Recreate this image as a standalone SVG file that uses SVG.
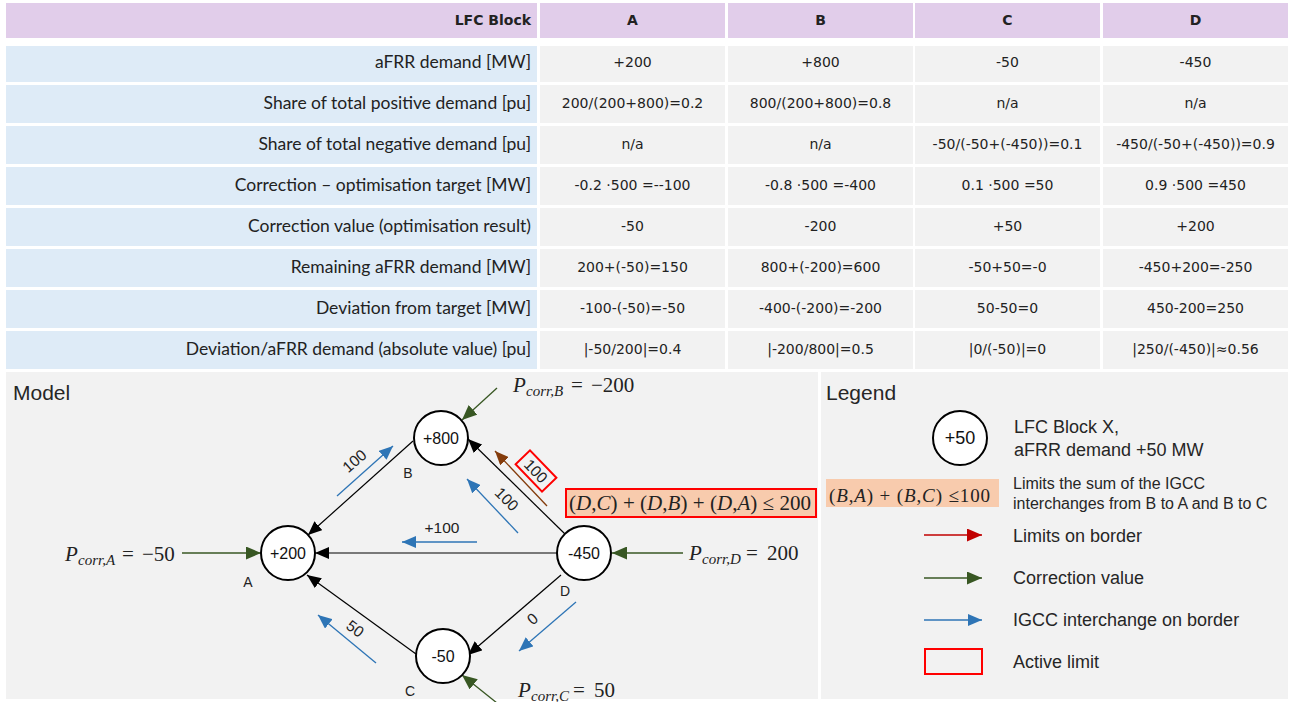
<svg xmlns="http://www.w3.org/2000/svg" width="1290" height="702" viewBox="0 0 1290 702">
  <style>
    .hdr { fill: #E1CDEA; }
    .lab { fill: #DEEBF7; }
    .val { fill: #F2F2F2; }
    .th { font-family: "DejaVu Sans", sans-serif; font-weight: bold; font-size: 14px; fill: #222; text-anchor: middle; }
    .rl { font-family: Lato, "Liberation Sans", sans-serif; font-size: 17.5px; fill: #222; text-anchor: end; }
    .tv { font-family: "DejaVu Sans", sans-serif; font-size: 14px; fill: #222; text-anchor: middle; }
    .panel { fill: #F2F2F2; }
    .title { font-family: "Liberation Sans", Arial, sans-serif; font-size: 21px; fill: #262626; }
    .node circle { fill: #fff; stroke: #000; stroke-width: 2; }
    .node text { font-family: "Liberation Sans", Arial, sans-serif; font-size: 16px; fill: #111; text-anchor: middle; }
    .nlab { font-family: "Liberation Sans", Arial, sans-serif; font-size: 14px; fill: #222; text-anchor: middle; }
    .edge { stroke: #000; stroke-width: 1.2; fill: none; marker-end: url(#ah-black); }
    .igcc { stroke: #2E75B6; stroke-width: 1.3; fill: none; marker-end: url(#ah-blue); }
    .corr { stroke: #385723; stroke-width: 1.3; fill: none; marker-end: url(#ah-green); }
    .lim { stroke: #843C0C; stroke-width: 1.3; fill: none; marker-end: url(#ah-brown); }
    .redl { stroke: #C00000; stroke-width: 1.3; fill: none; marker-end: url(#ah-red); }
    .flow { font-family: "Liberation Sans", Arial, sans-serif; font-size: 15.5px; fill: #222; text-anchor: middle; }
    .mi { font-family: "Liberation Serif", "Times New Roman", serif; font-style: italic; font-size: 21px; fill: #222; }
    .sub { font-family: "Liberation Serif", "Times New Roman", serif; font-style: italic; font-size: 15px; fill: #222; }
    .mo { font-family: "Liberation Serif", "Times New Roman", serif; font-size: 21px; fill: #222; }
    .it { font-style: italic; }
    .active { fill: none; stroke: #FF0000; stroke-width: 2; }
    .cons { fill: #F8CBAD; }
    .leg { font-family: "Liberation Sans", Arial, sans-serif; font-size: 18px; fill: #262626; }
    .legs { font-family: "Liberation Sans", Arial, sans-serif; font-size: 16px; fill: #262626; }
  </style>
  <defs>
    <marker id="ah-black" markerUnits="userSpaceOnUse" markerWidth="14" markerHeight="12" refX="14" refY="6" orient="auto">
      <path d="M0,0 L14,6 L0,12 z" fill="#000"/>
    </marker>
    <marker id="ah-blue" markerUnits="userSpaceOnUse" markerWidth="14" markerHeight="12" refX="14" refY="6" orient="auto">
      <path d="M0,0 L14,6 L0,12 z" fill="#2E75B6"/>
    </marker>
    <marker id="ah-green" markerUnits="userSpaceOnUse" markerWidth="15" markerHeight="13" refX="15" refY="6.5" orient="auto">
      <path d="M0,0 L15,6.5 L0,13 z" fill="#385723"/>
    </marker>
    <marker id="ah-brown" markerUnits="userSpaceOnUse" markerWidth="14" markerHeight="12" refX="14" refY="6" orient="auto">
      <path d="M0,0 L14,6 L0,12 z" fill="#843C0C"/>
    </marker>
    <marker id="ah-red" markerUnits="userSpaceOnUse" markerWidth="15" markerHeight="13" refX="15" refY="6.5" orient="auto">
      <path d="M0,0 L15,6.5 L0,13 z" fill="#C00000"/>
    </marker>
  </defs>

  <rect width="1290" height="702" fill="#fff"/>

  <!-- results table -->
  <g id="table">
    <g id="table-header">
      <rect class="hdr" x="6" y="3" width="531" height="35"/>
      <rect class="hdr" x="540" y="3" width="185" height="35"/>
      <rect class="hdr" x="728" y="3" width="185" height="35"/>
      <rect class="hdr" x="915" y="3" width="185" height="35"/>
      <rect class="hdr" x="1103" y="3" width="185" height="35"/>
      <text class="th" x="531" y="25" style="text-anchor:end">LFC Block</text>
      <text class="th" x="632.5" y="25">A</text>
      <text class="th" x="820.5" y="25">B</text>
      <text class="th" x="1007.5" y="25">C</text>
      <text class="th" x="1195.5" y="25">D</text>
    </g>
    <g id="table-cells">
      <rect class="lab" x="6" y="46" width="531" height="36"/>
      <rect class="val" x="540" y="46" width="185" height="36"/>
      <rect class="val" x="728" y="46" width="185" height="36"/>
      <rect class="val" x="915" y="46" width="185" height="36"/>
      <rect class="val" x="1103" y="46" width="185" height="36"/>

      <rect class="lab" x="6" y="85" width="531" height="38"/>
      <rect class="val" x="540" y="85" width="185" height="38"/>
      <rect class="val" x="728" y="85" width="185" height="38"/>
      <rect class="val" x="915" y="85" width="185" height="38"/>
      <rect class="val" x="1103" y="85" width="185" height="38"/>

      <rect class="lab" x="6" y="126" width="531" height="38"/>
      <rect class="val" x="540" y="126" width="185" height="38"/>
      <rect class="val" x="728" y="126" width="185" height="38"/>
      <rect class="val" x="915" y="126" width="185" height="38"/>
      <rect class="val" x="1103" y="126" width="185" height="38"/>

      <rect class="lab" x="6" y="167" width="531" height="38"/>
      <rect class="val" x="540" y="167" width="185" height="38"/>
      <rect class="val" x="728" y="167" width="185" height="38"/>
      <rect class="val" x="915" y="167" width="185" height="38"/>
      <rect class="val" x="1103" y="167" width="185" height="38"/>

      <rect class="lab" x="6" y="208" width="531" height="38"/>
      <rect class="val" x="540" y="208" width="185" height="38"/>
      <rect class="val" x="728" y="208" width="185" height="38"/>
      <rect class="val" x="915" y="208" width="185" height="38"/>
      <rect class="val" x="1103" y="208" width="185" height="38"/>

      <rect class="lab" x="6" y="249" width="531" height="38"/>
      <rect class="val" x="540" y="249" width="185" height="38"/>
      <rect class="val" x="728" y="249" width="185" height="38"/>
      <rect class="val" x="915" y="249" width="185" height="38"/>
      <rect class="val" x="1103" y="249" width="185" height="38"/>

      <rect class="lab" x="6" y="290" width="531" height="38"/>
      <rect class="val" x="540" y="290" width="185" height="38"/>
      <rect class="val" x="728" y="290" width="185" height="38"/>
      <rect class="val" x="915" y="290" width="185" height="38"/>
      <rect class="val" x="1103" y="290" width="185" height="38"/>

      <rect class="lab" x="6" y="331" width="531" height="38"/>
      <rect class="val" x="540" y="331" width="185" height="38"/>
      <rect class="val" x="728" y="331" width="185" height="38"/>
      <rect class="val" x="915" y="331" width="185" height="38"/>
      <rect class="val" x="1103" y="331" width="185" height="38"/>
    </g>
    <g id="table-text">
      <text class="rl" x="531" y="68">aFRR demand [MW]</text>
      <text class="tv" x="632.5" y="67">+200</text>
      <text class="tv" x="820.5" y="67">+800</text>
      <text class="tv" x="1007.5" y="67">-50</text>
      <text class="tv" x="1195.5" y="67">-450</text>

      <text class="rl" x="531" y="109">Share of total positive demand [pu]</text>
      <text class="tv" x="632.5" y="108">200/(200+800)=0.2</text>
      <text class="tv" x="820.5" y="108">800/(200+800)=0.8</text>
      <text class="tv" x="1007.5" y="108">n/a</text>
      <text class="tv" x="1195.5" y="108">n/a</text>

      <text class="rl" x="531" y="150">Share of total negative demand [pu]</text>
      <text class="tv" x="632.5" y="149">n/a</text>
      <text class="tv" x="820.5" y="149">n/a</text>
      <text class="tv" x="1007.5" y="149">-50/(-50+(-450))=0.1</text>
      <text class="tv" x="1195.5" y="149">-450/(-50+(-450))=0.9</text>

      <text class="rl" x="531" y="191">Correction – optimisation target [MW]</text>
      <text class="tv" x="632.5" y="190">-0.2 ·500 =--100</text>
      <text class="tv" x="820.5" y="190">-0.8 ·500 =-400</text>
      <text class="tv" x="1007.5" y="190">0.1 ·500 =50</text>
      <text class="tv" x="1195.5" y="190">0.9 ·500 =450</text>

      <text class="rl" x="531" y="232">Correction value (optimisation result)</text>
      <text class="tv" x="632.5" y="231">-50</text>
      <text class="tv" x="820.5" y="231">-200</text>
      <text class="tv" x="1007.5" y="231">+50</text>
      <text class="tv" x="1195.5" y="231">+200</text>

      <text class="rl" x="531" y="273">Remaining aFRR demand [MW]</text>
      <text class="tv" x="632.5" y="272">200+(-50)=150</text>
      <text class="tv" x="820.5" y="272">800+(-200)=600</text>
      <text class="tv" x="1007.5" y="272">-50+50=-0</text>
      <text class="tv" x="1195.5" y="272">-450+200=-250</text>

      <text class="rl" x="531" y="314">Deviation from target [MW]</text>
      <text class="tv" x="632.5" y="313">-100-(-50)=-50</text>
      <text class="tv" x="820.5" y="313">-400-(-200)=-200</text>
      <text class="tv" x="1007.5" y="313">50-50=0</text>
      <text class="tv" x="1195.5" y="313">450-200=250</text>

      <text class="rl" x="531" y="355">Deviation/aFRR demand (absolute value) [pu]</text>
      <text class="tv" x="632.5" y="354">|-50/200|=0.4</text>
      <text class="tv" x="820.5" y="354">|-200/800|=0.5</text>
      <text class="tv" x="1007.5" y="354">|0/(-50)|=0</text>
      <text class="tv" x="1195.5" y="354">|250/(-450)|≈0.56</text>
    </g>
  </g>

  <!-- model panel -->
  <rect class="panel" x="6" y="372" width="812" height="327"/>
  <text class="title" x="13" y="400">Model</text>

  <g id="connectors">
    <!-- borders between LFC blocks -->
    <line class="edge" x1="413" y1="441" x2="308" y2="535"/>
    <line class="edge" x1="557" y1="553" x2="315" y2="553"/>
    <line class="edge" x1="416" y1="654" x2="307" y2="575"/>
    <line class="edge" x1="565" y1="534" x2="468" y2="439"/>
    <line class="edge" x1="561" y1="575" x2="468" y2="655"/>
    <!-- IGCC interchanges -->
    <line class="igcc" x1="337" y1="496" x2="393" y2="446"/>
    <line class="igcc" x1="477" y1="542" x2="402" y2="542"/>
    <line class="igcc" x1="518" y1="533" x2="467" y2="479"/>
    <line class="igcc" x1="576" y1="602" x2="519" y2="651"/>
    <line class="igcc" x1="376" y1="663" x2="318" y2="615"/>
    <!-- border limit D to B -->
    <line class="lim" x1="547" y1="506" x2="495" y2="451"/>
    <!-- correction values -->
    <line class="corr" x1="182" y1="553" x2="261" y2="553"/>
    <line class="corr" x1="497" y1="388" x2="462" y2="420"/>
    <line class="corr" x1="683" y1="553" x2="612" y2="553"/>
    <line class="corr" x1="497" y1="703" x2="462" y2="675"/>
  </g>

  <g id="flow-labels">
    <text class="flow" transform="translate(358,465) rotate(-41)">100</text>
    <text class="flow" x="442" y="533">+100</text>
    <text class="flow" transform="translate(503,503) rotate(45)">100</text>
    <text class="flow" transform="translate(536,623) rotate(-41)">0</text>
    <text class="flow" transform="translate(352,633) rotate(37)">50</text>
    <g id="limit-DB" transform="translate(536,471) rotate(46)">
      <rect class="active" x="-19" y="-10" width="38" height="20"/>
      <text class="flow" x="0" y="5.5">100</text>
    </g>
  </g>

  <g id="node-A" class="node">
    <circle cx="288" cy="553" r="27"/>
    <text x="288" y="559">+200</text>
  </g>
  <g id="node-B" class="node">
    <circle cx="441" cy="438" r="27"/>
    <text x="441" y="444">+800</text>
  </g>
  <g id="node-C" class="node">
    <circle cx="443" cy="656" r="27"/>
    <text x="443" y="662">-50</text>
  </g>
  <g id="node-D" class="node">
    <circle cx="584" cy="553" r="27"/>
    <text x="584" y="559">-450</text>
  </g>
  <text class="nlab" x="248" y="587">A</text>
  <text class="nlab" x="408" y="478">B</text>
  <text class="nlab" x="410" y="696">C</text>
  <text class="nlab" x="565" y="596">D</text>

  <g id="corr-labels">
    <text class="mi" x="65" y="561">P</text>
    <text class="sub" x="78" y="565">corr,A</text>
    <text class="mo" x="122" y="561">=</text>
    <text class="mo" x="142" y="561">−50</text>

    <text class="mi" x="513" y="392">P</text>
    <text class="sub" x="526" y="396">corr,B</text>
    <text class="mo" x="571" y="392">=</text>
    <text class="mo" x="591" y="392">−200</text>

    <text class="mi" x="689" y="560">P</text>
    <text class="sub" x="702" y="564">corr,D</text>
    <text class="mo" x="746" y="560">=</text>
    <text class="mo" x="767" y="560">200</text>

    <text class="mi" x="518" y="697">P</text>
    <text class="sub" x="531" y="701">corr,C</text>
    <text class="mo" x="573" y="697">=</text>
    <text class="mo" x="594" y="697">50</text>
  </g>

  <g id="constraint-D">
    <rect class="cons" x="566" y="489" width="250" height="28"/>
    <rect class="active" x="566" y="489" width="250" height="28"/>
    <text class="mo" x="569" y="510" textLength="242" lengthAdjust="spacing">(<tspan class="it">D</tspan>,<tspan class="it">C</tspan>) + (<tspan class="it">D</tspan>,<tspan class="it">B</tspan>) + (<tspan class="it">D</tspan>,<tspan class="it">A</tspan>) ≤ 200</text>
  </g>

  <!-- legend panel -->
  <g id="legend">
    <rect class="panel" x="821" y="372" width="467" height="327"/>
    <text class="title" x="826" y="400">Legend</text>

    <g id="legend-node" class="node">
      <circle cx="960" cy="438" r="27"/>
      <text x="960" y="444" style="font-size:18px">+50</text>
    </g>
    <text class="leg" x="1014" y="433">LFC Block X,</text>
    <text class="leg" x="1014" y="456">aFRR demand +50 MW</text>

    <rect class="cons" x="826" y="479" width="173" height="28"/>
    <text class="mo" x="829" y="502" style="font-size:19px" textLength="161" lengthAdjust="spacing">(<tspan class="it">B</tspan>,<tspan class="it">A</tspan>) + (<tspan class="it">B</tspan>,<tspan class="it">C</tspan>) ≤100</text>
    <text class="legs" x="1013" y="489">Limits the sum of the IGCC</text>
    <text class="legs" x="1013" y="509">interchanges from B to A and B to C</text>

    <line class="redl" x1="924" y1="535" x2="982" y2="535"/>
    <text class="leg" x="1013" y="542">Limits on border</text>

    <line class="corr" x1="924" y1="578" x2="982" y2="578"/>
    <text class="leg" x="1013" y="584">Correction value</text>

    <line class="igcc" x1="924" y1="620" x2="982" y2="620"/>
    <text class="leg" x="1013" y="626">IGCC interchange on border</text>

    <rect class="active" x="925" y="649" width="57" height="25"/>
    <text class="leg" x="1013" y="668">Active limit</text>
  </g>
</svg>
